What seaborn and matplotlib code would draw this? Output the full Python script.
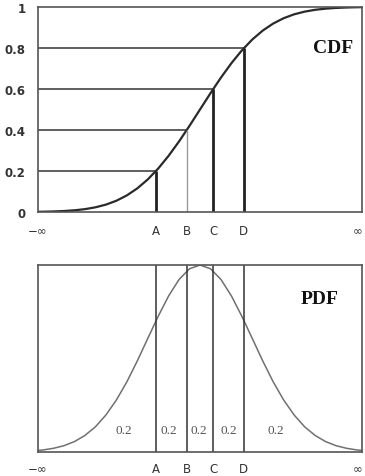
import matplotlib
matplotlib.use('Agg')
import matplotlib.pyplot as plt
import seaborn as sns
import pandas as pd

# curve values (x in standard units)
z = [-3.2, -3.0, -2.8, -2.6, -2.4, -2.2, -2.0, -1.8, -1.6, -1.4, -1.2, -1.0, -0.8,
     -0.6, -0.4, -0.2, 0.0, 0.2, 0.4, 0.6, 0.8, 1.0, 1.2, 1.4, 1.6, 1.8, 2.0, 2.2,
     2.4, 2.6, 2.8, 3.0, 3.2]
cdf = [0.0007, 0.0013, 0.0026, 0.0047, 0.0082, 0.0139, 0.0228, 0.0359, 0.0548,
       0.0808, 0.1151, 0.1587, 0.2119, 0.2743, 0.3446, 0.4207, 0.5, 0.5793, 0.6554,
       0.7257, 0.7881, 0.8413, 0.8849, 0.9192, 0.9452, 0.9641, 0.9772, 0.9861,
       0.9918, 0.9953, 0.9974, 0.9987, 0.9993]
pdf = [0.006, 0.011, 0.020, 0.034, 0.056, 0.089, 0.135, 0.198, 0.278, 0.375, 0.487,
       0.607, 0.726, 0.835, 0.923, 0.980, 1.0, 0.980, 0.923, 0.835, 0.726, 0.607,
       0.487, 0.375, 0.278, 0.198, 0.135, 0.089, 0.056, 0.034, 0.020, 0.011, 0.006]

cut_names = ['A', 'B', 'C', 'D']
cut_x = [-0.84, -0.25, 0.25, 0.84]
cut_levels = [0.2, 0.4, 0.6, 0.8]
band_x = [-1.45, -0.6, -0.02, 0.56, 1.45]
band_labels = ['0.2', '0.2', '0.2', '0.2', '0.2']

df = pd.DataFrame({'z': z, 'cdf': cdf, 'pdf': pdf})

sns.set_style('white')
plt.rcParams['font.family'] = ['DejaVu Sans']

xlo, xhi = -3.1, 3.1
fig = plt.figure(figsize=(3.65, 4.77), dpi=100)
ax1 = fig.add_axes([0.104, 0.5535, 0.888, 0.4298])
ax2 = fig.add_axes([0.104, 0.0503, 0.888, 0.392])

# CDF
sns.lineplot(data=df, x='z', y='cdf', ax=ax1, color='#2a2a2a', lw=1.6)
ax1.hlines(cut_levels, xlo, cut_x, color='#333333', lw=1.1)
line_cols = ['#222222', '#9a9a9a', '#222222', '#222222']
line_w = [2.0, 1.0, 2.0, 2.0]
for x, lev, c, w in zip(cut_x, cut_levels, line_cols, line_w):
    ax1.vlines(x, 0, lev, color=c, lw=w)
ax1.set_ylim(0, 1)
ax1.set_yticks([0, 0.2, 0.4, 0.6, 0.8, 1])
ax1.set_yticklabels(['0', '0.2', '0.4', '0.6', '0.8', '1'], fontsize=8.5,
                    fontweight='bold', color='#333333')
ax1.text(0.91, 0.80, 'CDF', transform=ax1.transAxes, ha='center', va='center',
         fontsize=14, fontweight='bold', family='Liberation Serif', color='#111111')

# PDF
sns.lineplot(data=df, x='z', y='pdf', ax=ax2, color='#707070', lw=1.1)
for x in cut_x:
    ax2.axvline(x, color='#333333', lw=1.1)
for x, t in zip(band_x, band_labels):
    ax2.text(x, 0.118, t, ha='center', va='center', fontsize=9.5,
             family='Liberation Serif', color='#555555')
ax2.set_ylim(0, 1)
ax2.set_yticks([])
ax2.text(0.87, 0.82, 'PDF', transform=ax2.transAxes, ha='center', va='center',
         fontsize=14, fontweight='bold', family='Liberation Serif', color='#111111')

for ax, pad in ((ax1, 9), (ax2, 7)):
    ax.set_xlim(xlo, xhi)
    ax.set_xticks([xlo] + cut_x + [xhi])
    ax.set_xticklabels(['−∞'] + cut_names + ['∞'], fontsize=8.5, color='#333333')
    ax.get_xticklabels()[-1].set_ha('right')
    ax.set_xlabel('')
    ax.set_ylabel('')
    ax.tick_params(length=0, pad=pad)
    for s in ax.spines.values():
        s.set_color('#555555')
        s.set_linewidth(1.2)

fig.savefig('out.png', dpi=100)
